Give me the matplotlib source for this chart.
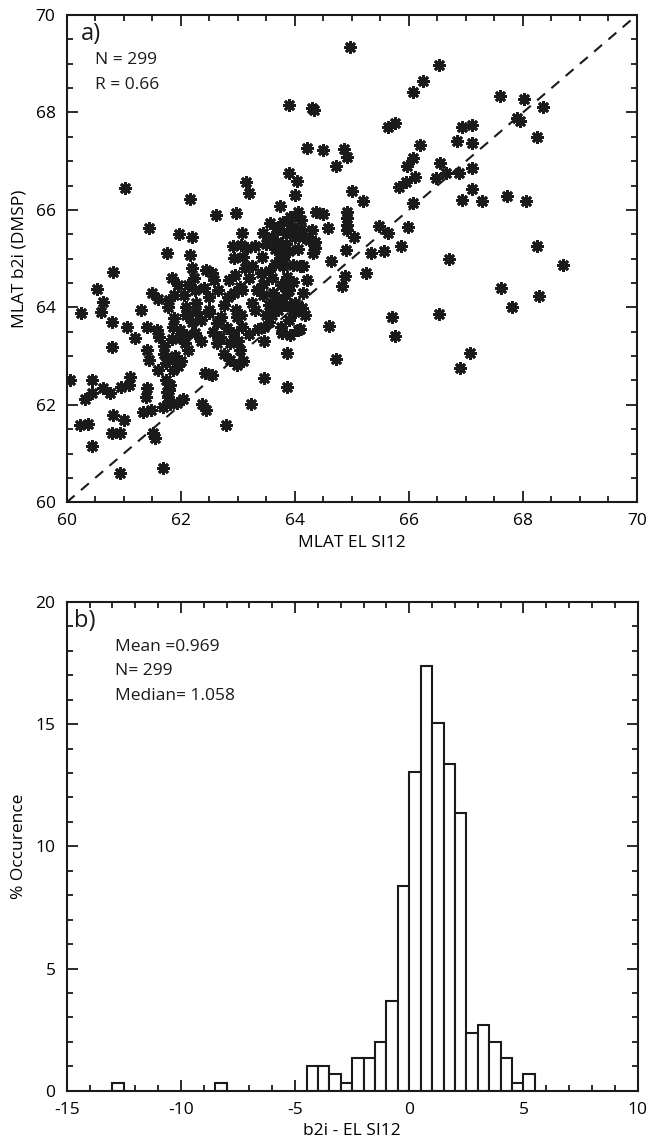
import matplotlib
matplotlib.use("Agg")
import matplotlib.pyplot as plt
import numpy as np
from matplotlib.ticker import MultipleLocator

plt.rcParams['font.family'] = ['Open Sans', 'DejaVu Sans']
plt.rcParams['axes.unicode_minus'] = False

# ---------------- Panel a data (MLAT EL SI12 vs MLAT b2i DMSP) ----------------
x_el = [
    64.96, 63.90, 64.30, 64.34, 64.21, 64.50, 64.86, 64.92, 64.72, 63.89,
    64.04, 63.14, 63.20, 64.00, 65.01, 61.03, 62.17, 66.53, 66.24, 66.08,
    67.60, 68.02, 68.35, 67.90, 67.94, 68.25, 65.64, 65.76, 66.94, 67.10,
    66.84, 67.10, 66.19, 66.08, 65.96, 66.11, 66.54, 66.65, 66.48, 66.88,
    67.10, 65.82, 65.95, 67.10, 66.94, 67.28, 67.72, 68.05, 66.07, 65.19,
    64.91, 64.91, 64.91, 64.91, 64.38, 64.50, 64.58, 65.04, 65.48, 65.63,
    65.99, 65.87, 65.33, 65.56, 64.90, 64.63, 65.24, 64.88, 64.82, 66.70,
    68.25, 68.71, 67.62, 68.28, 67.80, 66.53, 65.71, 65.76, 64.60, 67.08,
    66.90, 64.72, 64.35, 64.32, 64.35, 64.15, 64.30, 64.24, 64.15, 64.21,
    64.15, 64.18, 64.09, 64.12,
    61.45, 61.97, 62.19, 62.61, 62.97, 63.74, 63.56, 63.44, 63.07, 61.76,
    62.17, 60.82, 60.53, 62.92, 63.06, 63.17, 62.94, 63.09, 63.12, 63.42,
    63.74, 63.74, 63.80, 63.97, 64.09, 63.86, 63.97, 62.44, 62.24, 62.12,
    62.59, 62.85, 63.03, 62.95, 62.82, 62.94, 63.07, 62.49, 62.49, 61.50,
    61.60, 61.80, 61.89, 61.77, 62.09, 62.27, 62.27, 62.09, 61.89, 62.97,
    63.06, 60.64, 60.61, 60.25, 60.79, 61.06, 61.20, 60.79, 61.41, 61.45,
    63.44, 63.33, 63.45, 63.62, 63.74, 63.60, 63.70, 63.85, 63.95, 63.80,
    63.92, 64.05, 64.10, 64.00, 63.68, 63.80, 63.90, 63.65, 63.55, 63.75,
    63.90, 63.60, 63.85, 64.00, 63.70, 63.95, 63.55,
    61.87, 61.99, 62.10, 62.07, 62.13, 62.25, 61.58, 61.61, 62.63, 62.57,
    62.69, 62.63, 62.81, 62.92, 62.86, 63.01, 63.04, 62.98, 63.07, 62.86,
    62.98, 63.10, 63.46, 63.46, 63.77, 63.92, 64.06, 63.86, 64.00, 63.46,
    63.87, 60.06, 60.44, 60.44, 60.32, 60.64, 60.76, 60.95, 61.11, 61.10,
    61.40, 61.39, 61.34, 61.47, 61.81, 61.75, 61.78, 61.69, 61.81, 61.93,
    62.04, 62.37, 62.45, 62.43, 62.54, 63.24, 62.79, 60.23, 60.38, 60.82,
    61.00, 60.79, 60.94, 61.52, 61.55, 60.44, 60.93, 61.69,
    61.60, 61.74, 61.80, 61.86, 61.74, 61.80, 61.90, 61.95, 62.00, 61.70,
    62.03, 61.70, 61.85, 62.20, 62.35, 62.75, 62.70, 62.40, 62.65, 62.25,
    62.05, 61.95, 63.25, 63.30, 63.20, 63.50, 63.55, 63.35, 63.20, 61.40,
    61.30, 63.65, 63.50, 63.30, 63.85, 64.05, 64.10, 63.25, 63.40, 63.65,
    63.90, 63.75, 62.50, 62.35, 62.75, 62.55, 62.20, 61.85, 63.85, 63.60,
]
y_b2i = [
    69.35, 68.15, 68.10, 68.05, 67.27, 67.22, 67.25, 67.09, 66.91, 66.76,
    66.59, 66.58, 66.35, 66.30, 66.39, 66.46, 66.22, 68.97, 68.65, 68.41,
    68.34, 68.28, 68.11, 67.88, 67.82, 67.50, 67.71, 67.79, 67.71, 67.74,
    67.41, 67.38, 67.33, 67.07, 66.90, 66.68, 66.96, 66.76, 66.65, 66.76,
    66.87, 66.48, 66.58, 66.43, 66.20, 66.18, 66.29, 66.18, 66.15, 66.18,
    65.96, 65.83, 65.69, 65.59, 65.95, 65.91, 65.63, 65.44, 65.66, 65.52,
    65.64, 65.25, 65.11, 65.16, 65.18, 64.96, 64.71, 64.64, 64.44, 64.99,
    65.25, 64.87, 64.40, 64.23, 64.01, 63.86, 63.81, 63.41, 63.62, 63.07,
    62.76, 62.94, 65.35, 65.11, 65.22, 65.45, 65.59, 65.38, 64.84, 64.56,
    64.29, 63.84, 63.56, 63.98,
    65.62, 65.50, 65.44, 65.89, 65.93, 66.08, 65.74, 65.52, 65.52, 65.11,
    65.07, 64.73, 64.37, 65.25, 65.28, 65.21, 65.01, 65.04, 64.80, 65.04,
    65.14, 65.01, 64.84, 64.87, 64.84, 64.63, 64.53, 64.77, 64.60, 64.46,
    64.56, 64.56, 64.42, 64.67, 64.22, 64.29, 64.36, 64.21, 63.89, 64.29,
    64.17, 64.15, 64.25, 64.01, 64.01, 64.08, 63.91, 63.84, 63.78, 63.95,
    63.84, 64.12, 63.91, 63.88, 63.71, 63.59, 63.37, 63.18, 63.13, 62.93,
    64.49, 64.36, 64.25, 64.29, 64.15, 65.45, 65.60, 65.50, 65.65, 65.75,
    65.85, 65.95, 65.80, 65.45, 65.35, 65.00, 65.15, 64.90, 64.75, 64.45,
    64.35, 64.60, 64.25, 64.10, 63.95, 64.00, 64.05,
    63.60, 63.54, 63.43, 63.26, 63.13, 63.47, 63.54, 63.40, 63.67, 63.50,
    63.40, 63.26, 63.57, 63.47, 63.26, 63.30, 63.13, 63.81, 63.60, 62.92,
    62.82, 62.89, 63.60, 63.30, 63.47, 63.43, 63.54, 63.06, 63.91, 62.56,
    62.37, 62.52, 62.51, 62.24, 62.11, 62.34, 62.24, 62.37, 62.58, 62.41,
    62.34, 62.17, 61.86, 61.89, 62.41, 62.27, 62.17, 61.96, 62.02, 62.04,
    62.11, 62.02, 61.89, 62.65, 62.61, 62.02, 61.59, 61.59, 61.61, 61.79,
    61.69, 61.42, 61.42, 61.42, 61.31, 61.16, 60.60, 60.71,
    62.72, 62.85, 62.92, 62.72, 62.51, 62.30, 63.00, 62.80, 62.90, 63.05,
    63.37, 63.20, 63.35, 63.70, 63.30, 63.05, 63.80, 64.40, 64.35, 64.35,
    64.25, 64.45, 64.10, 63.95, 64.60, 63.85, 63.70, 63.55, 63.45, 63.60,
    63.95, 65.20, 65.30, 65.25, 65.30, 65.20, 65.60, 64.85, 64.70, 64.15,
    63.75, 63.60, 63.95, 63.75, 64.05, 64.70, 64.80, 64.60, 64.05, 63.85,
]
n_label_a = "N = 299"
r_label_a = "R = 0.66"

# ---------------- Panel b data (histogram of b2i - EL SI12) ----------------
bin_left = [-13.0, -8.5,
            -4.5, -4.0, -3.5, -3.0, -2.5, -2.0, -1.5, -1.0, -0.5,
            0.0, 0.5, 1.0, 1.5, 2.0, 2.5, 3.0, 3.5, 4.0, 4.5, 5.0]
bin_counts = [1, 1,
              3, 3, 2, 1, 4, 4, 6, 11, 25,
              39, 52, 45, 40, 34, 7, 8, 6, 4, 1, 2]
bin_width = 0.5
n_total = 299
stats_text = ["Mean =0.969", "N= 299", "Median= 1.058"]

# ---------------- Figure ----------------
W, H = 649, 1140
fig = plt.figure(figsize=(W / 100, H / 100), dpi=100)

def px_axes(l, t, r, b):
    return fig.add_axes([l / W, 1 - b / H, (r - l) / W, (b - t) / H])

ax1 = px_axes(66.7, 15.0, 637.0, 502.3)
ax2 = px_axes(66.7, 602.0, 637.7, 1090.7)

fs_tick = 12.5
for ax in (ax1, ax2):
    for sp in ax.spines.values():
        sp.set_linewidth(1.5)
        sp.set_color('#1a1a1a')
    ax.tick_params(which='both', direction='in', top=True, right=True,
                   color='#1a1a1a', width=1.3, labelsize=fs_tick, pad=8)
    ax.tick_params(which='major', length=8)
    ax.tick_params(which='minor', length=4.5)

# Panel a
ax1.plot([60, 70], [60, 70], linestyle=(0, (5, 4)), color='#1a1a1a', lw=1.5, zorder=1)
ax1.plot(x_el, y_b2i, linestyle='none', marker=(8, 2, 0), markersize=9,
         markeredgewidth=2.0, color='#1a1a1a', zorder=2)
ax1.set_xlim(60, 70)
ax1.set_ylim(60, 70)
ax1.xaxis.set_major_locator(MultipleLocator(2))
ax1.xaxis.set_minor_locator(MultipleLocator(0.5))
ax1.yaxis.set_major_locator(MultipleLocator(2))
ax1.yaxis.set_minor_locator(MultipleLocator(0.5))
ax1.set_xlabel('MLAT EL SI12', fontsize=fs_tick, labelpad=4)
ax1.set_ylabel('MLAT b2i (DMSP)', fontsize=fs_tick, labelpad=6)
ax1.text(0.025, 0.985, 'a)', transform=ax1.transAxes, fontsize=17,
         va='top', ha='left', color='#1a1a1a')
ax1.text(0.050, 0.925, n_label_a, transform=ax1.transAxes, fontsize=fs_tick,
         va='top', ha='left', color='#1a1a1a')
ax1.text(0.050, 0.873, r_label_a, transform=ax1.transAxes, fontsize=fs_tick,
         va='top', ha='left', color='#1a1a1a')

# Panel b
pct = [c / n_total * 100.0 for c in bin_counts]
ax2.bar(bin_left, pct, width=bin_width, align='edge', facecolor='white',
        edgecolor='#1a1a1a', linewidth=1.5, zorder=2)
ax2.set_xlim(-15, 10)
ax2.set_ylim(0, 20)
ax2.xaxis.set_major_locator(MultipleLocator(5))
ax2.xaxis.set_minor_locator(MultipleLocator(1))
ax2.yaxis.set_major_locator(MultipleLocator(5))
ax2.yaxis.set_minor_locator(MultipleLocator(1))
ax2.set_xlabel('b2i - EL SI12', fontsize=fs_tick, labelpad=4)
ax2.set_ylabel('% Occurence', fontsize=fs_tick, labelpad=6)
ax2.text(0.012, 0.985, 'b)', transform=ax2.transAxes, fontsize=17,
         va='top', ha='left', color='#1a1a1a')
for i, s in enumerate(stats_text):
    ax2.text(0.085, 0.925 - i * 0.05, s, transform=ax2.transAxes,
             fontsize=fs_tick, va='top', ha='left', color='#1a1a1a')

fig.savefig('out.png', dpi=100)
